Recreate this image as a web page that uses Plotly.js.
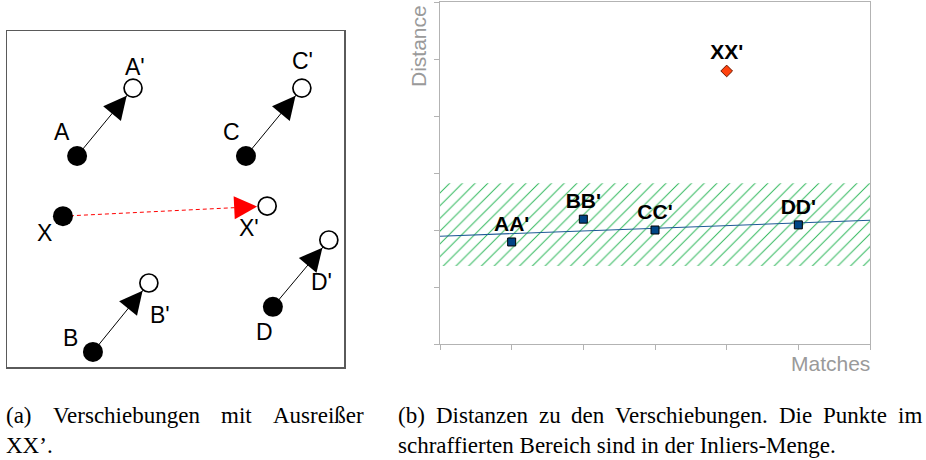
<!DOCTYPE html>
<html>
<head>
<meta charset="utf-8">
<script src="https://cdn.plot.ly/plotly-3.0.1.min.js"></script>
<style>
  html, body { margin: 0; padding: 0; background: #ffffff; }
  #chart { width: 926px; height: 460px; }
</style>
</head>
<body>
<div id="chart"></div>
<script>
// ---- Panel (a): displacement of matched points ----
const pointNames = ['A', 'B', 'C', 'D', 'X'];
const startX = [2.08, 2.55, 7.09, 7.89, 1.66];
const startY = [6.28, 0.45, 6.28, 1.79, 4.49];
const endX = [3.74, 4.21, 8.75, 9.55, 7.72];
const endY = [8.30, 2.50, 8.30, 3.78, 4.79];
const isOutlier = [false, false, false, false, true];

// ---- Panel (b): distance of each displacement ----
const matchLabels = ["AA'", "BB'", "CC'", "DD'"];
const matchIndex = [1, 2, 3, 5];
const matchDistance = [1.79, 2.19, 2.00, 2.09];
const outlierLabels = ["XX'"];
const outlierIndex = [4];
const outlierDistance = [4.79];
const trendIndex = [0, 6];
const trendDistance = [1.89, 2.17];
const inlierBand = [1.37, 2.82];
const matchRange = [0, 6];
const distanceRange = [0, 6];

// label offsets in screen pixels [dx, dy] (dy downwards)
const startLabelShift = [[-15, -24], [-22, -14], [-14, -24], [-8, 25], [-18, 17]];
const endLabelShift = [[2, -21], [11, 32], [1, -27], [-7, 42], [-18, 22]];

const W = 926, H = 460;
const fx = v => v / W;
const fy = v => 1 - v / H;
const boxA = { l: 7, r: 344, t: 31, b: 367 };
const boxB = { l: 440, r: 870, t: 2, b: 344 };
const rangeA = [0, 10];
const pxPerX = (boxA.r - boxA.l) / (rangeA[1] - rangeA[0]);
const pxPerY = (boxA.b - boxA.t) / (rangeA[1] - rangeA[0]);

const sansFont = 'Liberation Sans, Arial, sans-serif';
const serifFont = 'Liberation Serif, Times New Roman, serif';
const axisGrey = '#b3b3b3';
const titleGrey = '#9a9a9a';

const traces = [];

// connecting lines (solid for inliers, dashed for the outlier)
const solid = { x: [], y: [] }, dashed = { x: [], y: [] };
pointNames.forEach((n, i) => {
  const t = isOutlier[i] ? dashed : solid;
  t.x.push(startX[i], endX[i], null);
  t.y.push(startY[i], endY[i], null);
});
traces.push({
  type: 'scatter', mode: 'lines', xaxis: 'x2', yaxis: 'y2',
  x: solid.x, y: solid.y, line: { color: '#000000', width: 1 }, hoverinfo: 'skip'
});
traces.push({
  type: 'scatter', mode: 'lines', xaxis: 'x2', yaxis: 'y2',
  x: dashed.x, y: dashed.y, line: { color: '#ff0000', width: 1, dash: '4px,3px' }, hoverinfo: 'skip'
});
// start points (filled) and end points (open)
traces.push({
  type: 'scatter', mode: 'markers', xaxis: 'x2', yaxis: 'y2',
  x: startX, y: startY,
  marker: { symbol: 'circle', size: 20, color: '#000000', line: { width: 0 } }
});
traces.push({
  type: 'scatter', mode: 'markers', xaxis: 'x2', yaxis: 'y2',
  x: endX, y: endY,
  marker: { symbol: 'circle', size: 18, color: '#ffffff', line: { width: 1.7, color: '#000000' } }
});

// panel (b): hatched inlier band
traces.push({
  type: 'scatter', mode: 'lines', xaxis: 'x', yaxis: 'y',
  x: [matchRange[0], matchRange[1], matchRange[1], matchRange[0], matchRange[0]],
  y: [inlierBand[0], inlierBand[0], inlierBand[1], inlierBand[1], inlierBand[0]],
  fill: 'toself', fillcolor: 'rgba(0,0,0,0)',
  fillpattern: { shape: '/', fgcolor: '#2fb85c', bgcolor: 'rgba(0,0,0,0)', size: 9, solidity: 0.11 },
  line: { width: 0, color: 'rgba(0,0,0,0)' }, hoverinfo: 'skip'
});
// trend line
traces.push({
  type: 'scatter', mode: 'lines', xaxis: 'x', yaxis: 'y',
  x: trendIndex, y: trendDistance, line: { color: '#1f5a96', width: 1.1 }, hoverinfo: 'skip'
});
// inlier matches
traces.push({
  type: 'scatter', mode: 'markers+text', xaxis: 'x', yaxis: 'y',
  x: matchIndex, y: matchDistance, text: matchLabels, textposition: 'top center',
  textfont: { family: sansFont, size: 21, color: '#000000', weight: 'bold' },
  marker: { symbol: 'square', size: 8, color: '#004586', line: { width: 1, color: '#000000' } },
  cliponaxis: false
});
// outlier match
traces.push({
  type: 'scatter', mode: 'markers+text', xaxis: 'x', yaxis: 'y',
  x: outlierIndex, y: outlierDistance, text: outlierLabels, textposition: 'top center',
  textfont: { family: sansFont, size: 21, color: '#000000', weight: 'bold' },
  marker: { symbol: 'diamond', size: 9, color: '#ff420e', line: { width: 1, color: '#6a1800' } },
  cliponaxis: false
});

const annotations = [];

// arrow heads at the end points
const headStandoff = 10;
const tailLength = headStandoff + 12;
pointNames.forEach((n, i) => {
  const dx = (endX[i] - startX[i]) * pxPerX;
  const dy = (endY[i] - startY[i]) * pxPerY;
  const len = Math.hypot(dx, dy);
  annotations.push({
    xref: 'x2', yref: 'y2', x: endX[i], y: endY[i],
    ax: -dx / len * tailLength, ay: dy / len * tailLength,
    axref: 'pixel', ayref: 'pixel',
    text: '', showarrow: true, arrowhead: 2, arrowsize: 4.6, arrowwidth: 1,
    arrowcolor: isOutlier[i] ? '#ff0000' : '#000000', standoff: headStandoff
  });
});

// point names
pointNames.forEach((n, i) => {
  annotations.push({
    xref: 'x2', yref: 'y2', x: startX[i], y: startY[i], text: n, showarrow: false,
    xanchor: 'center', yanchor: 'middle',
    xshift: startLabelShift[i][0], yshift: -startLabelShift[i][1],
    font: { family: sansFont, size: 23, color: '#000000' }
  });
  annotations.push({
    xref: 'x2', yref: 'y2', x: endX[i], y: endY[i], text: n + "'", showarrow: false,
    xanchor: 'center', yanchor: 'middle',
    xshift: endLabelShift[i][0], yshift: -endLabelShift[i][1],
    font: { family: sansFont, size: 23, color: '#000000' }
  });
});

// axis titles of panel (b)
annotations.push({
  xref: 'paper', yref: 'paper', x: fx(419), y: fy(46), xanchor: 'center', yanchor: 'middle',
  text: 'Distance', textangle: -90,
  showarrow: false, font: { family: sansFont, size: 21, color: titleGrey }
});
annotations.push({
  xref: 'paper', yref: 'paper', x: fx(872), y: fy(363), xanchor: 'right', yanchor: 'middle',
  text: 'Matches',
  showarrow: false, font: { family: sansFont, size: 21, color: titleGrey }
});

// captions, with justified first lines
const captionSize = 23;
const measure = (() => {
  const ctx = document.createElement('canvas').getContext('2d');
  ctx.font = captionSize + 'px "Liberation Serif"';
  return s => ctx.measureText(s).width;
})();
function captionLine(words, left, right, centerY, justify) {
  const widths = words.map(measure);
  const total = widths.reduce((a, b) => a + b, 0);
  const gap = justify && words.length > 1 ? (right - left - total) / (words.length - 1) : measure(' ');
  let x = left;
  words.forEach((w, k) => {
    annotations.push({
      xref: 'paper', yref: 'paper', x: fx(x), y: fy(centerY), xanchor: 'left', yanchor: 'middle',
      text: w, showarrow: false, borderpad: 0, font: { family: serifFont, size: captionSize, color: '#000000' }
    });
    x += widths[k] + gap;
  });
}
captionLine(['(a)', 'Verschiebungen', 'mit', 'Ausreißer'], 5, 363, 415, true);
captionLine(['XX’.'], 5, 363, 445, false);
captionLine(['(b)', 'Distanzen', 'zu', 'den', 'Verschiebungen.', 'Die', 'Punkte', 'im'], 397, 921, 415, true);
captionLine(['schraffierten Bereich sind in der Inliers-Menge.'], 397, 921, 445, false);

const hiddenAxis = {
  showticklabels: false, ticks: '', showgrid: false, zeroline: false,
  showline: true, mirror: true, linecolor: '#5a5a5a', linewidth: 1.5, fixedrange: true
};
const greyAxis = {
  showticklabels: false, ticks: 'outside', ticklen: 5, tickwidth: 1, tickcolor: axisGrey,
  tick0: 0, dtick: 1, showgrid: false, zeroline: false,
  showline: true, mirror: true, linecolor: axisGrey, linewidth: 1, fixedrange: true
};

const layout = {
  width: W, height: H,
  margin: { l: 0, r: 0, t: 0, b: 0, pad: 0 },
  paper_bgcolor: '#ffffff', plot_bgcolor: 'rgba(0,0,0,0)',
  showlegend: false,
  xaxis: Object.assign({}, greyAxis, { domain: [fx(boxB.l), fx(boxB.r)], range: matchRange, anchor: 'y' }),
  yaxis: Object.assign({}, greyAxis, { domain: [fy(boxB.b), fy(boxB.t)], range: distanceRange, anchor: 'x' }),
  xaxis2: Object.assign({}, hiddenAxis, { domain: [fx(boxA.l), fx(boxA.r)], range: rangeA, anchor: 'y2' }),
  yaxis2: Object.assign({}, hiddenAxis, { domain: [fy(boxA.b), fy(boxA.t)], range: rangeA, anchor: 'x2' }),
  annotations: annotations
};

Plotly.newPlot('chart', traces, layout, { staticPlot: true, displayModeBar: false });
</script>
</body>
</html>
